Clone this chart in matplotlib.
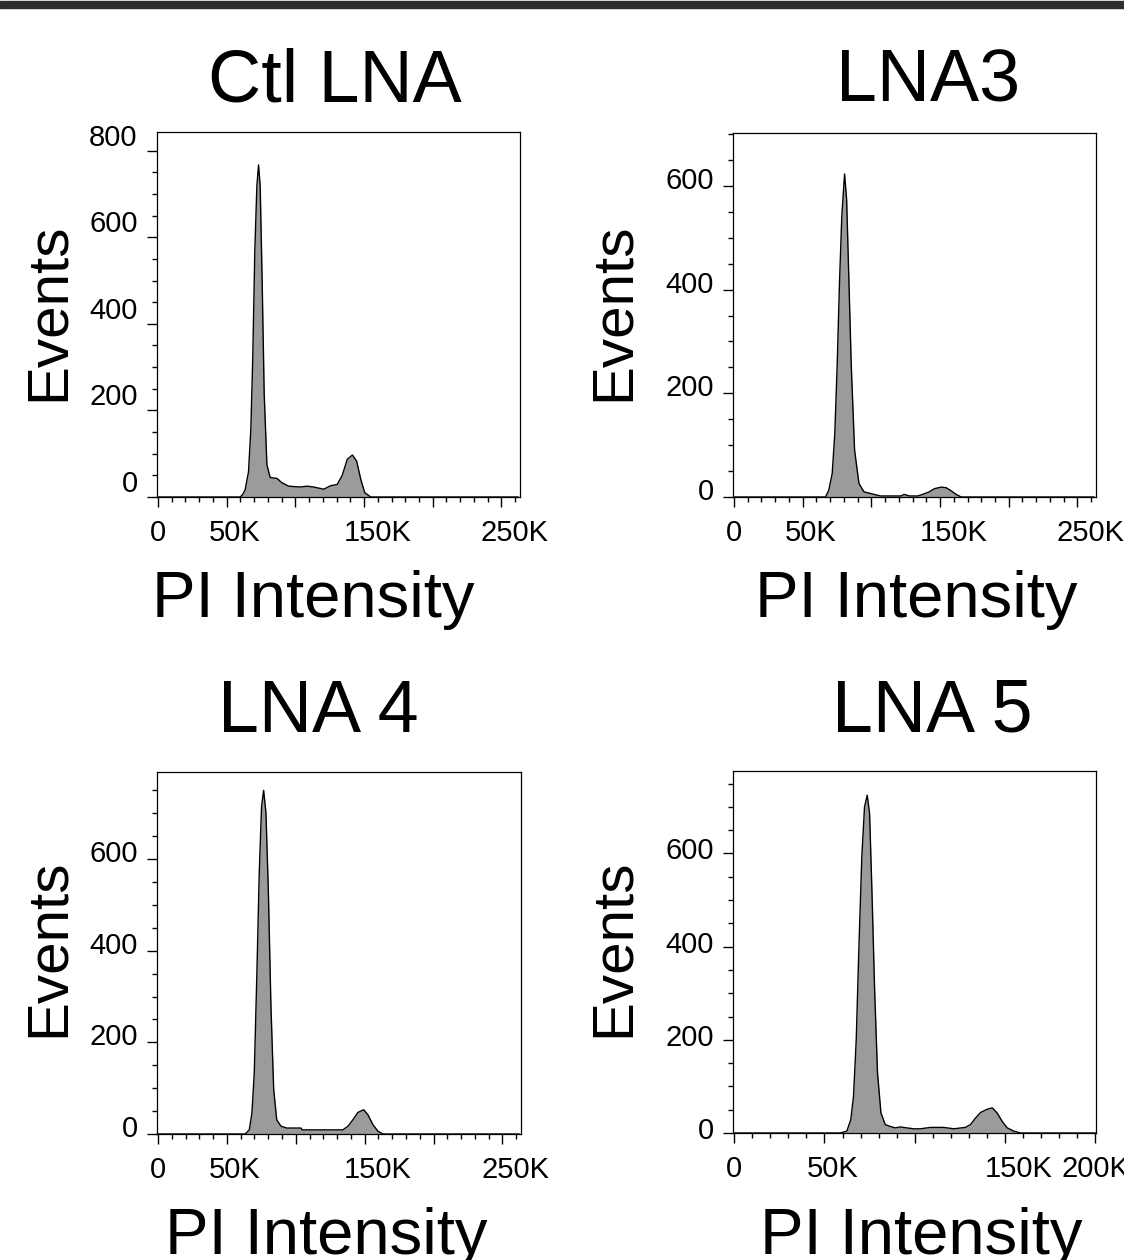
import matplotlib
matplotlib.use("Agg")
import matplotlib.pyplot as plt
import matplotlib.transforms as mtransforms
from matplotlib.patches import Rectangle
import numpy as np

plt.rcParams['font.family'] = ['Liberation Sans', 'DejaVu Sans']

# titulos dos paineis
titulos = ["Ctl LNA", "LNA3", "LNA 4", "LNA 5"]

# intensidade PI (em K) e numero de eventos
ctl_x = [0, 59.8, 61.5, 63.4, 65.9, 67.6, 69.0, 70.5, 72.0, 73.2, 74.4, 75.9, 77.3, 79.3,
         81.7, 86.6, 90.2, 95.1, 103.7, 108.5, 113.4, 120.7, 125.6, 130.5, 134.1,
         137.8, 141.5, 144.6, 147.6, 150.5, 154.9, 262]
ctl_y = [0, 0, 5, 16, 58, 157, 322, 570, 719, 767, 719, 488, 240, 74,
         45, 43, 33, 25, 23, 25, 23, 18, 26, 29, 50,
         87, 97, 83, 41, 10, 0, 0]

lna3_x = [0, 66.6, 69.0, 71.5, 73.4, 75.1, 76.8, 78.5, 80.5, 82.0, 83.7, 85.4, 87.8,
          91.0, 94.6, 102.0, 106.8, 121.5, 123.9, 127.6, 133.7, 137.3, 142.2, 145.9,
          150.7, 154.4, 158.0, 161.7, 165.4, 262]
lna3_y = [0, 0, 13, 45, 123, 252, 413, 542, 623, 574, 413, 252, 90,
          26, 10, 5, 2, 2, 5, 2, 2, 5, 10, 16,
          19, 18, 12, 5, 0, 0]

lna4_x = [0, 63.3, 66.3, 68.2, 69.9, 71.8, 73.5, 75.2, 76.7, 78.4, 80.1, 82.0, 84.0,
          86.2, 89.3, 93.4, 103.9, 104.6, 134.2, 137.9, 141.5, 145.1, 149.3, 152.4,
          156.1, 159.7, 163.3, 262]
lna4_y = [0, 0, 9, 46, 133, 351, 569, 715, 750, 700, 533, 279, 97,
          31, 17, 13, 13, 9, 9, 17, 31, 47, 53, 42,
          20, 6, 0, 0]

lna5_x = [0, 58.7, 62.4, 64.6, 66.1, 67.6, 69.1, 70.7, 72.2, 73.7, 75.0, 76.3, 77.8,
          79.4, 81.3, 83.7, 86.5, 89.3, 92.0, 95.7, 99.4, 103.1, 108.7, 116.1, 121.7,
          128.1, 130.9, 133.7, 136.5, 140.2, 143.0, 145.7, 148.5, 151.3, 155.0, 158.7, 200.5]
lna5_y = [0, 0, 4, 29, 79, 200, 400, 593, 700, 725, 686, 521, 307,
          129, 43, 18, 14, 11, 13, 11, 9, 9, 12, 12, 9,
          12, 18, 32, 44, 51, 54, 43, 25, 11, 4, 0, 0]

dados_x = [ctl_x, lna3_x, lna4_x, lna5_x]
dados_y = [ctl_y, lna3_y, lna4_y, lna5_y]

# ticks e rotulos dos eixos
x_ticks_250 = [0, 50000, 100000, 150000, 200000, 250000]
x_rotulos_250 = ["0", "50K", "", "150K", "", "250K"]
x_ticks_200 = [0, 50000, 100000, 150000, 200000]
x_rotulos_200 = ["0", "50K", "", "150K", "200K"]
y_ticks_800 = [0, 200, 400, 600, 800]
y_ticks_600 = [0, 200, 400, 600]

x_ticks = [x_ticks_250, x_ticks_250, x_ticks_250, x_ticks_200]
x_rotulos = [x_rotulos_250, x_rotulos_250, x_rotulos_250, x_rotulos_200]
y_ticks = [y_ticks_800, y_ticks_600, y_ticks_600, y_ticks_600]

# limites dos eixos
x_max = [263500, 263500, 263500, 200500]
y_max = [843, 702, 790, 777]

W, H = 1124, 1260
fig = plt.figure(figsize=(W / 100, H / 100), dpi=100)


def caixa(esq, topo, dir, base):
    return [esq / W, 1 - base / H, (dir - esq) / W, (base - topo) / H]


# posicoes em pixels: quadro, titulo, rotulo y, rotulo x
quadros = [(157, 132, 520, 497), (733, 133, 1096, 497),
           (157, 772, 521, 1134), (733, 771, 1096, 1133)]
pos_titulo = [(335, 82), (928, 82), (318, 712), (932, 712)]
pos_events = [(49, 312), (614, 312), (49, 948), (614, 948)]
pos_pi = [(313, 600), (916, 600), (326, 1237), (921, 1237)]
desloc_rotulo_y = [0.16, 0.08, 0.08, 0.05]

# barra escura no topo
fig.patches.append(Rectangle((0, 1 - 8 / H), 1, 7 / H, transform=fig.transFigure,
                             color='#2e2e2e', zorder=5))

for i in range(4):
    ax = fig.add_axes(caixa(*quadros[i]))
    xs = np.array(dados_x[i]) * 1000
    ys = np.array(dados_y[i])
    ax.fill_between(xs, ys, color='#9b9b9b', lw=0)
    ax.plot(xs, ys, color='black', lw=1)

    ax.set_xlim(-700, x_max[i])
    ax.set_ylim(0, y_max[i])

    ax.set_xticks(x_ticks[i])
    ax.set_xticklabels(x_rotulos[i])
    ax.set_xticks(np.arange(0, x_max[i], 10000), minor=True)
    ax.set_yticks(y_ticks[i])
    ax.set_yticklabels([str(v) for v in y_ticks[i]])
    ax.set_yticks(np.arange(0, y_max[i], 50), minor=True)

    ax.tick_params(which='major', length=7, width=1, labelsize=21, direction='out')
    ax.tick_params(which='minor', length=3.5, width=1, direction='out')
    ax.tick_params(axis='y', pad=7)
    ax.tick_params(axis='x', pad=9)
    for s in ax.spines.values():
        s.set_linewidth(0.9)

    # rotulos deslocados como no FlowJo
    dy = mtransforms.ScaledTranslation(0, desloc_rotulo_y[i], fig.dpi_scale_trans)
    for lab in ax.get_yticklabels():
        lab.set_transform(lab.get_transform() + dy)
    for lab in ax.get_xticklabels():
        t = lab.get_text()
        if t == "50K":
            dx = 0.08
        elif t in ("150K", "250K"):
            dx = 0.135
        else:
            dx = 0
        lab.set_transform(lab.get_transform() +
                          mtransforms.ScaledTranslation(dx, 0, fig.dpi_scale_trans))

    fig.text(pos_titulo[i][0] / W, 1 - pos_titulo[i][1] / H, titulos[i],
             fontsize=53, ha='center', va='center')
    fig.text(pos_events[i][0] / W, 1 - pos_events[i][1] / H, "Events",
             fontsize=42, rotation=90, ha='center', va='center')
    fig.text(pos_pi[i][0] / W, 1 - pos_pi[i][1] / H, "PI Intensity",
             fontsize=47, ha='center', va='center')

fig.savefig("out.png", dpi=100)
